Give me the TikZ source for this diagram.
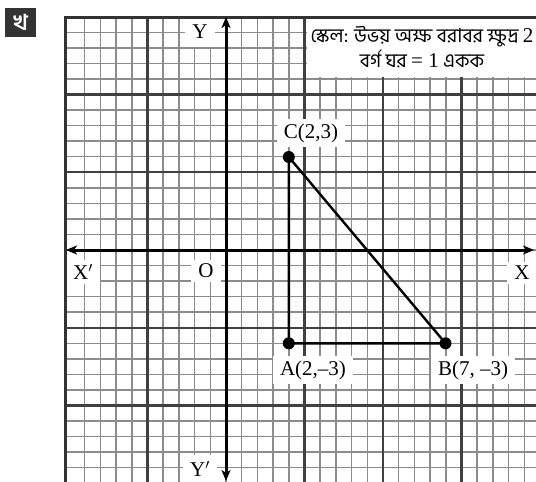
\documentclass[tikz,border=0pt]{standalone}
\usepackage{fontspec}
\setmainfont{Liberation Serif}
\newfontfamily\bn[Script=Bengali]{Hind Siliguri}
\usetikzlibrary{arrows.meta}
\begin{document}
\begin{tikzpicture}[x=1pt,y=-1pt,
  minor/.style={draw=black!45, line width=1.5pt},
  major/.style={draw=black!75, line width=2.4pt},
  frame/.style={draw=black!80, line width=3pt},
  axis/.style={draw=black, line width=3pt},
  side/.style={draw=black, line width=2.4pt},
  dot/.style={circle, fill=black, inner sep=0pt, minimum size=12pt},
  lbl/.style={fill=white, inner xsep=7pt, inner ysep=4pt, font=\fontsize{21}{23}\selectfont},
  tips/.style={{Stealth[length=11pt,width=9pt,inset=3pt]}-{Stealth[length=11pt,width=9pt,inset=3pt]}},
]
\useasboundingbox (0,0) rectangle (536,482);
\fill[white] (0,0) rectangle (536,482);
% graph paper
\begin{scope}
  \clip (65,17) rectangle (536,482);
  \foreach \i in {-9,...,19} { \draw[minor] ({226+\i*15.7},17) -- ({226+\i*15.7},482); }
  \foreach \j in {-15,...,15} { \draw[minor] (65,{250+\j*15.55}) -- (536,{250+\j*15.55}); }
  \foreach \i in {-5,5,10,15} { \draw[major] ({226+\i*15.7},17) -- ({226+\i*15.7},482); }
  \foreach \j in {-10,-5,5,10} { \draw[major] (65,{250+\j*15.55}) -- (536,{250+\j*15.55}); }
\end{scope}
% labels on white
\node[lbl, minimum width=26pt, minimum height=30pt] (ylab) at (200,32) {Y};
\node[lbl, minimum width=27pt, minimum height=28pt] (yplab) at (200,469) {Y$'$};
\node[lbl] (xplab) at (83,272) {X$'$};
\node[lbl] (olab) at (206,271) {O};
\node[lbl] (xlab) at (522,273) {X};
\node[lbl] (clab) at (311,133) {C(2,3)};
\node[lbl] (alab) at (313,370) {A(2,–3)};
\node[lbl] (blab) at (473,370) {B(7, –3)};
\node[fill=white, minimum width=228pt, minimum height=60pt, align=center,
      font=\bn\fontsize{19.5}{25}\selectfont] (scale) at (422,47)
  {স্কেল: উভয় অক্ষ বরাবর ক্ষুদ্র {\rmfamily\fontsize{21}{25}\selectfont 2}\\বর্গ ঘর {\rmfamily\fontsize{21}{25}\selectfont = 1} একক};
% frame
\coordinate (f1) at (65,482);
\coordinate (f2) at (65,17);
\coordinate (f3) at (536,17);
\draw[frame] (f1) -- (f2) -- (f3);
% axes
\coordinate (xl) at (66,250);
\coordinate (xr) at (534,250);
\coordinate (yt) at (226,17);
\coordinate (yb) at (226,481);
\draw[axis, tips] (xl) -- (xr);
\draw[axis, tips] (yb) -- (yt);
% triangle
\node[dot] (A) at (288.8,343.3) {};
\node[dot] (B) at (445.5,343.3) {};
\node[dot] (C) at (288.8,157) {};
\draw[side] (A.center) -- (B.center) -- (C.center) -- (A.center);
% badge
\node[fill=black!80, text=white, minimum width=31pt, minimum height=29pt, inner sep=0pt,
      font=\bn\bfseries\fontsize{22}{24}\selectfont] (badge) at (20.5,22) {খ};
\end{tikzpicture}
\end{document}
